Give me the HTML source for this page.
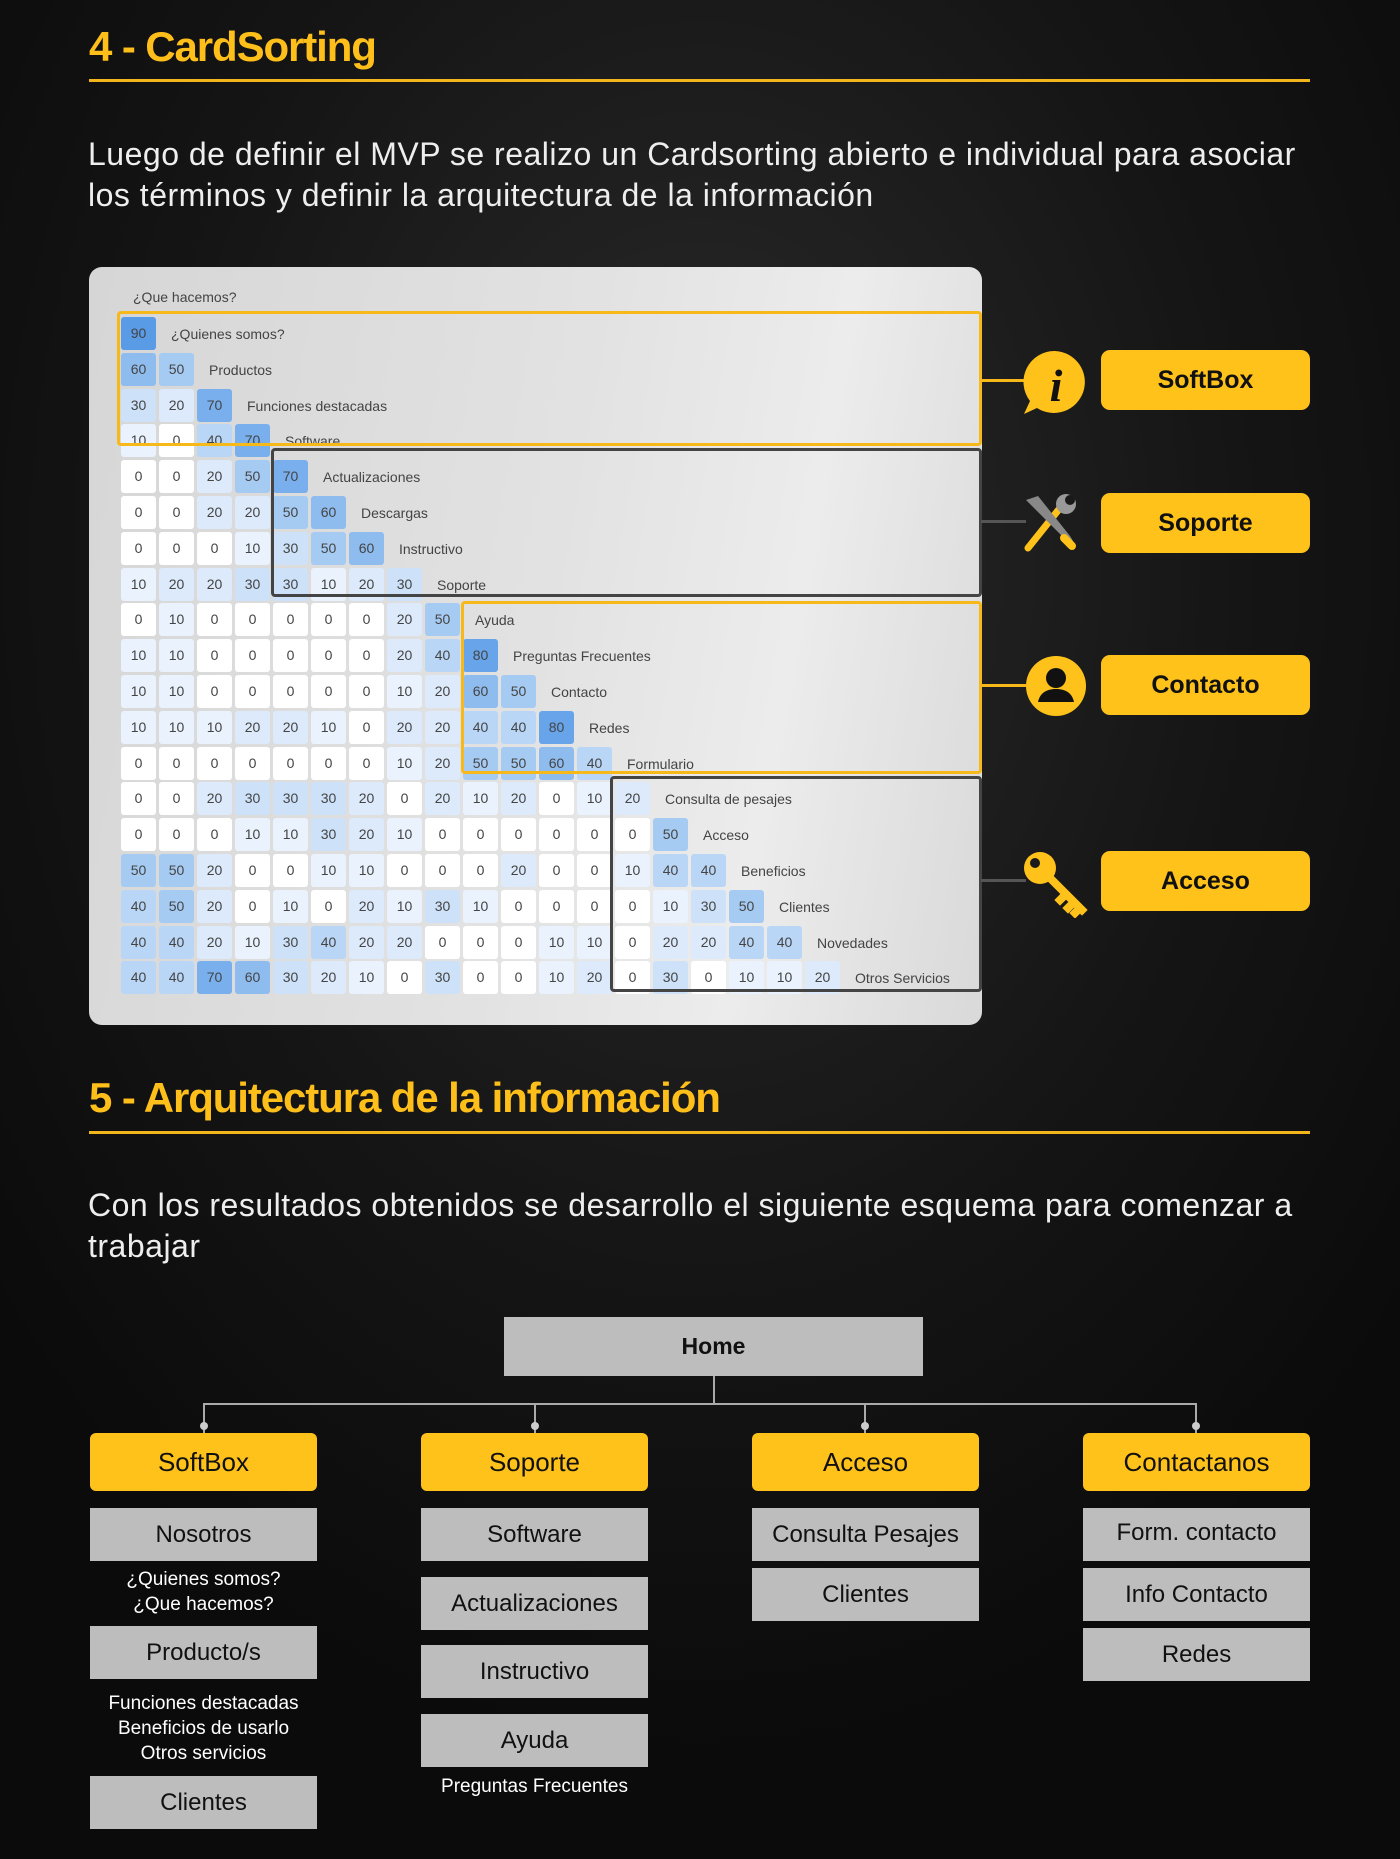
<!DOCTYPE html>
<html><head><meta charset="utf-8"><style>
*{margin:0;padding:0;box-sizing:border-box}
body{width:1400px;height:1859px;position:relative;overflow:hidden;font-family:"Liberation Sans",sans-serif;background:radial-gradient(ellipse 900px 1200px at 50% 30%,#2b2b2b 0%,#151515 60%,#0b0b0b 100%)}
.a{position:absolute}
h2{position:absolute;left:89px;color:#ffbf1a;font-size:42px;font-weight:bold;line-height:50px;letter-spacing:-1.1px}
.hl{position:absolute;left:89px;width:1221px;height:3px;background:#f2b51c}
.p{position:absolute;left:88px;color:#eee;font-size:32px;line-height:41px;width:1240px;letter-spacing:0.5px}
.panel{position:absolute;left:89px;top:267px;width:893px;height:758px;border-radius:13px;background:linear-gradient(100deg,#d6d6d6 0%,#e2e2e2 50%,#ececec 75%,#d9d9d9 100%)}
.r{position:absolute;left:121px;height:33px;display:flex;align-items:center;white-space:nowrap}
.r i{font-style:normal;display:inline-block;width:35px;height:33px;margin-right:3px;border-radius:3px;text-align:center;line-height:33px;font-size:14px;color:#444}
.r span{margin-left:12px;font-size:14px;color:#444}
.c0{background:#fff}.c1{background:#eaf3fd}.c2{background:#dceafb}.c3{background:#cde2f9}.c4{background:#b9d6f6}.c5{background:#a6cbf3}.c6{background:#8fbcef}.c7{background:#79afec}.c8{background:#68a4ea}.c9{background:#5a9be6}
.bx{position:absolute;border:3px solid;border-radius:4px}
.lab{position:absolute;left:1101px;width:209px;height:60px;background:#ffc21a;border-radius:9px;font-weight:bold;font-size:25px;text-align:center;line-height:60px;color:#111}
.y{position:absolute;height:58px;width:227px;background:#ffc21a;border-radius:6px;font-size:26px;text-align:center;line-height:58px;color:#111}
.g{position:absolute;height:53px;width:227px;background:#bdbdbd;font-size:24px;text-align:center;line-height:53px;color:#111}
.t{position:absolute;width:227px;text-align:center;color:#fff;font-size:19px;line-height:25px}
.ln{position:absolute;background:#aaa}
.dot{position:absolute;width:8px;height:8px;border-radius:50%;background:#ccc}
</style></head><body>
<h2 style="top:22px">4 - CardSorting</h2>
<div class="hl" style="top:79px"></div>
<div class="p" style="top:134px">Luego de definir el MVP se realizo un Cardsorting abierto e individual para asociar los términos y definir la arquitectura de la información</div>

<div class="panel"></div>
<div class="a" style="left:133px;top:289px;font-size:14px;color:#444">¿Que hacemos?</div>
<div class="r" style="top:317px"><i class="c9">90</i><span>¿Quienes somos?</span></div>
<div class="r" style="top:353px"><i class="c6">60</i><i class="c5">50</i><span>Productos</span></div>
<div class="r" style="top:389px"><i class="c3">30</i><i class="c2">20</i><i class="c7">70</i><span>Funciones destacadas</span></div>
<div class="r" style="top:424px"><i class="c1">10</i><i class="c0">0</i><i class="c4">40</i><i class="c7">70</i><span>Software</span></div>
<div class="r" style="top:460px"><i class="c0">0</i><i class="c0">0</i><i class="c2">20</i><i class="c5">50</i><i class="c7">70</i><span>Actualizaciones</span></div>
<div class="r" style="top:496px"><i class="c0">0</i><i class="c0">0</i><i class="c2">20</i><i class="c2">20</i><i class="c5">50</i><i class="c6">60</i><span>Descargas</span></div>
<div class="r" style="top:532px"><i class="c0">0</i><i class="c0">0</i><i class="c0">0</i><i class="c1">10</i><i class="c3">30</i><i class="c5">50</i><i class="c6">60</i><span>Instructivo</span></div>
<div class="r" style="top:568px"><i class="c1">10</i><i class="c2">20</i><i class="c2">20</i><i class="c3">30</i><i class="c3">30</i><i class="c1">10</i><i class="c2">20</i><i class="c3">30</i><span>Soporte</span></div>
<div class="r" style="top:603px"><i class="c0">0</i><i class="c1">10</i><i class="c0">0</i><i class="c0">0</i><i class="c0">0</i><i class="c0">0</i><i class="c0">0</i><i class="c2">20</i><i class="c5">50</i><span>Ayuda</span></div>
<div class="r" style="top:639px"><i class="c1">10</i><i class="c1">10</i><i class="c0">0</i><i class="c0">0</i><i class="c0">0</i><i class="c0">0</i><i class="c0">0</i><i class="c2">20</i><i class="c4">40</i><i class="c8">80</i><span>Preguntas Frecuentes</span></div>
<div class="r" style="top:675px"><i class="c1">10</i><i class="c1">10</i><i class="c0">0</i><i class="c0">0</i><i class="c0">0</i><i class="c0">0</i><i class="c0">0</i><i class="c1">10</i><i class="c2">20</i><i class="c6">60</i><i class="c5">50</i><span>Contacto</span></div>
<div class="r" style="top:711px"><i class="c1">10</i><i class="c1">10</i><i class="c1">10</i><i class="c2">20</i><i class="c2">20</i><i class="c1">10</i><i class="c0">0</i><i class="c2">20</i><i class="c2">20</i><i class="c4">40</i><i class="c4">40</i><i class="c8">80</i><span>Redes</span></div>
<div class="r" style="top:747px"><i class="c0">0</i><i class="c0">0</i><i class="c0">0</i><i class="c0">0</i><i class="c0">0</i><i class="c0">0</i><i class="c0">0</i><i class="c1">10</i><i class="c2">20</i><i class="c5">50</i><i class="c5">50</i><i class="c6">60</i><i class="c4">40</i><span>Formulario</span></div>
<div class="r" style="top:782px"><i class="c0">0</i><i class="c0">0</i><i class="c2">20</i><i class="c3">30</i><i class="c3">30</i><i class="c3">30</i><i class="c2">20</i><i class="c0">0</i><i class="c2">20</i><i class="c1">10</i><i class="c2">20</i><i class="c0">0</i><i class="c1">10</i><i class="c2">20</i><span>Consulta de pesajes</span></div>
<div class="r" style="top:818px"><i class="c0">0</i><i class="c0">0</i><i class="c0">0</i><i class="c1">10</i><i class="c1">10</i><i class="c3">30</i><i class="c2">20</i><i class="c1">10</i><i class="c0">0</i><i class="c0">0</i><i class="c0">0</i><i class="c0">0</i><i class="c0">0</i><i class="c0">0</i><i class="c5">50</i><span>Acceso</span></div>
<div class="r" style="top:854px"><i class="c5">50</i><i class="c5">50</i><i class="c2">20</i><i class="c0">0</i><i class="c0">0</i><i class="c1">10</i><i class="c1">10</i><i class="c0">0</i><i class="c0">0</i><i class="c0">0</i><i class="c2">20</i><i class="c0">0</i><i class="c0">0</i><i class="c1">10</i><i class="c4">40</i><i class="c4">40</i><span>Beneficios</span></div>
<div class="r" style="top:890px"><i class="c4">40</i><i class="c5">50</i><i class="c2">20</i><i class="c0">0</i><i class="c1">10</i><i class="c0">0</i><i class="c2">20</i><i class="c1">10</i><i class="c3">30</i><i class="c1">10</i><i class="c0">0</i><i class="c0">0</i><i class="c0">0</i><i class="c0">0</i><i class="c1">10</i><i class="c3">30</i><i class="c5">50</i><span>Clientes</span></div>
<div class="r" style="top:926px"><i class="c4">40</i><i class="c4">40</i><i class="c2">20</i><i class="c1">10</i><i class="c3">30</i><i class="c4">40</i><i class="c2">20</i><i class="c2">20</i><i class="c0">0</i><i class="c0">0</i><i class="c0">0</i><i class="c1">10</i><i class="c1">10</i><i class="c0">0</i><i class="c2">20</i><i class="c2">20</i><i class="c4">40</i><i class="c4">40</i><span>Novedades</span></div>
<div class="r" style="top:961px"><i class="c4">40</i><i class="c4">40</i><i class="c7">70</i><i class="c6">60</i><i class="c3">30</i><i class="c2">20</i><i class="c1">10</i><i class="c0">0</i><i class="c3">30</i><i class="c0">0</i><i class="c0">0</i><i class="c1">10</i><i class="c2">20</i><i class="c0">0</i><i class="c3">30</i><i class="c0">0</i><i class="c1">10</i><i class="c1">10</i><i class="c2">20</i><span>Otros Servicios</span></div>

<div class="bx" style="left:117px;top:311px;width:865px;height:135px;border-color:#f7b81a"></div>
<div class="bx" style="left:271px;top:448px;width:711px;height:149px;border-color:#444"></div>
<div class="bx" style="left:461px;top:601px;width:521px;height:173px;border-color:#f7b81a"></div>
<div class="bx" style="left:610px;top:776px;width:372px;height:216px;border-color:#444"></div>

<div class="a" style="left:981px;top:379px;width:45px;height:3px;background:#f7b81a"></div>
<div class="a" style="left:981px;top:520px;width:45px;height:3px;background:#555"></div>
<div class="a" style="left:981px;top:684px;width:45px;height:3px;background:#f7b81a"></div>
<div class="a" style="left:981px;top:879px;width:45px;height:3px;background:#555"></div>

<svg class="a" style="left:1020px;top:348px" width="70" height="70" viewBox="0 0 70 70"><path d="M35 3a31 31 0 1 1-18 57l-13 6 6-13A31 31 0 0 1 35 3z" fill="#ffc21a"/><text x="36" y="53" font-family="Liberation Serif" font-style="italic" font-weight="bold" font-size="46" text-anchor="middle" fill="#111">i</text></svg>
<svg class="a" style="left:1020px;top:490px" width="64" height="64" viewBox="0 0 64 64"><path d="M8 58L40 18" stroke="#ffc21a" stroke-width="7" stroke-linecap="round"/><path d="M6 10l12 -4 32 40 6 10 -8 -4z" fill="#888"/><circle cx="46" cy="14" r="10" fill="#999"/><circle cx="50" cy="10" r="5" fill="#1a1a1a"/><path d="M44 48l8 8" stroke="#ffc21a" stroke-width="8" stroke-linecap="round"/></svg>
<svg class="a" style="left:1025px;top:655px" width="62" height="62" viewBox="0 0 62 62"><circle cx="31" cy="31" r="30" fill="#ffc21a"/><circle cx="31" cy="23" r="10" fill="#111"/><path d="M13 47c2-10 10-13 18-13s16 3 18 13z" fill="#111"/></svg>
<svg class="a" style="left:1020px;top:848px" width="70" height="70" viewBox="0 0 70 70"><circle cx="20" cy="20" r="16" fill="#ffc21a"/><circle cx="15" cy="15" r="5" fill="#1a1a1a"/><path d="M28 28L62 62M46 46l-6 6M54 54l-6 6M60 60l-5 5" stroke="#ffc21a" stroke-width="8" stroke-linecap="square"/></svg>

<div class="lab" style="top:350px">SoftBox</div>
<div class="lab" style="top:493px">Soporte</div>
<div class="lab" style="top:655px">Contacto</div>
<div class="lab" style="top:851px">Acceso</div>

<h2 style="top:1073px">5 - Arquitectura de la información</h2>
<div class="hl" style="top:1131px"></div>
<div class="p" style="top:1185px">Con los resultados obtenidos se desarrollo el siguiente esquema para comenzar a trabajar</div>

<div class="a" style="left:504px;top:1317px;width:419px;height:59px;background:#bdbdbd;text-align:center;line-height:59px;font-weight:bold;font-size:23px;color:#111">Home</div>
<div class="ln" style="left:713px;top:1376px;width:2px;height:28px"></div>
<div class="ln" style="left:204px;top:1403px;width:993px;height:2px"></div>
<div class="ln" style="left:203px;top:1403px;width:2px;height:30px"></div>
<div class="ln" style="left:534px;top:1403px;width:2px;height:30px"></div>
<div class="ln" style="left:864px;top:1403px;width:2px;height:30px"></div>
<div class="ln" style="left:1195px;top:1403px;width:2px;height:30px"></div>
<div class="dot" style="left:200px;top:1422px"></div><div class="dot" style="left:531px;top:1422px"></div><div class="dot" style="left:861px;top:1422px"></div><div class="dot" style="left:1192px;top:1422px"></div>

<div class="y" style="left:90px;top:1433px">SoftBox</div>
<div class="y" style="left:421px;top:1433px">Soporte</div>
<div class="y" style="left:752px;top:1433px">Acceso</div>
<div class="y" style="left:1083px;top:1433px">Contactanos</div>

<div class="g" style="left:90px;top:1508px">Nosotros</div>
<div class="t" style="left:90px;top:1567px">¿Quienes somos?<br>¿Que hacemos?</div>
<div class="g" style="left:90px;top:1626px">Producto/s</div>
<div class="t" style="left:90px;top:1691px">Funciones destacadas<br>Beneficios de usarlo<br>Otros servicios</div>
<div class="g" style="left:90px;top:1776px">Clientes</div>

<div class="g" style="left:421px;top:1508px">Software</div>
<div class="g" style="left:421px;top:1577px">Actualizaciones</div>
<div class="g" style="left:421px;top:1645px">Instructivo</div>
<div class="g" style="left:421px;top:1714px">Ayuda</div>
<div class="t" style="left:421px;top:1774px">Preguntas Frecuentes</div>

<div class="g" style="left:752px;top:1508px">Consulta Pesajes</div>
<div class="g" style="left:752px;top:1568px">Clientes</div>

<div class="g" style="left:1083px;top:1508px;line-height:49px">Form. contacto</div>
<div class="g" style="left:1083px;top:1568px">Info Contacto</div>
<div class="g" style="left:1083px;top:1628px">Redes</div>
</body></html>
